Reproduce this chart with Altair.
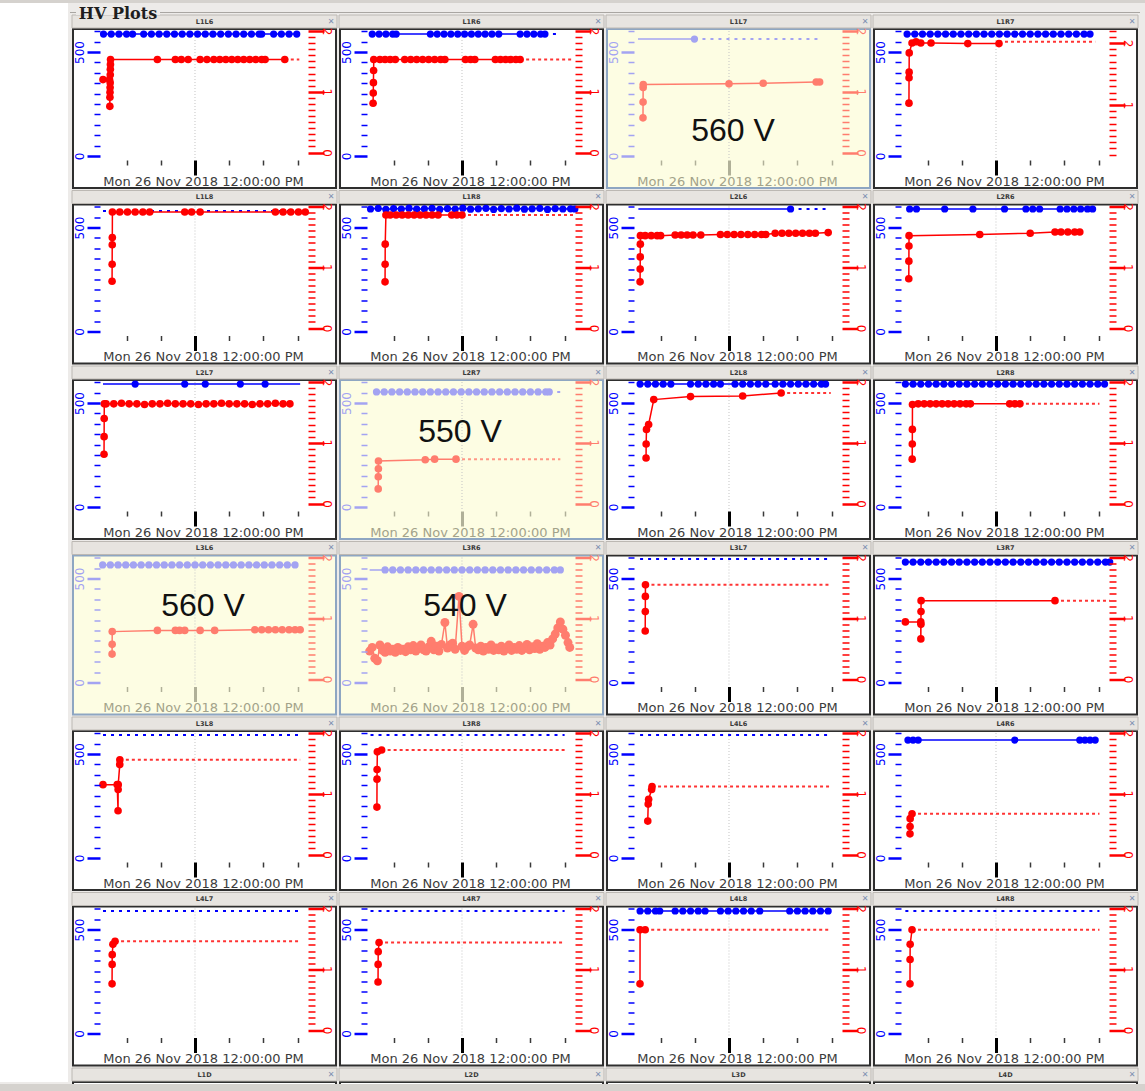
import math
import altair as alt
import pandas as pd

BASE = pd.Timestamp("2018-11-26 00:00:00")

# ---------------------------------------------------------------------------
# Data: times in hours after Mon 26 Nov 2018 00:00.
# bt/bv : blue (voltage, left axis) dots ; rt/ri : red (right axis) dots
# blead : extent of the solid blue line ; bext/rext : dotted continuation [t0, t1, value]
# ---------------------------------------------------------------------------
ROWS = [["L1L6", "L1R6", "L1L7", "L1R7"],
        ["L1L8", "L1R8", "L2L6", "L2R6"],
        ["L2L7", "L2R7", "L2L8", "L2R8"],
        ["L3L6", "L3R6", "L3L7", "L3R7"],
        ["L3L8", "L3R8", "L4L6", "L4R6"],
        ["L4L7", "L4R7", "L4L8", "L4R8"]]
LAST_ROW = ["L1D", "L2D", "L3D", "L4D"]
HIGHLIGHT = {"L1L7": "560 V", "L2R7": "550 V", "L3L6": "560 V", "L3R6": "540 V"}

L1L6 = dict(
    bt=[1.3, 2.2, 3.1, 4.0, 4.7, 6.0, 6.9, 7.8, 8.7, 9.6, 10.5, 11.4, 12.3, 13.2, 14.1, 15.0, 15.9, 16.8, 17.7, 18.6, 19.5, 19.8, 21.2, 22.1, 23.0, 23.9],
    bv=[586, 586, 586, 586, 586, 586, 586, 586, 586, 586, 586, 586, 586, 586, 586, 586, 586, 586, 586, 586, 586, 586, 586, 586, 586, 586],
    rt=[1.24, 2.0, 2.04, 2.05, 2.06, 2.07, 2.08, 2.09, 2.1, 2.11, 2.12, 7.6, 9.7, 10.4, 11.2, 12.6, 13.4, 14.2, 14.9, 15.6, 16.3, 17.0, 17.7, 18.4, 19.1, 19.8, 20.2, 22.5],
    ri=[1.20, 1.20, 0.76, 0.91, 0.99, 1.07, 1.15, 1.28, 1.37, 1.45, 1.53, 1.53, 1.53, 1.53, 1.53, 1.53, 1.53, 1.53, 1.53, 1.53, 1.53, 1.53, 1.53, 1.53, 1.53, 1.53, 1.53, 1.53],
    rext=[22.5, 24.2, 1.53])
L1R6 = dict(
    bt=[1.5, 2.3, 3.1, 3.9, 4.3, 8.3, 9.1, 9.9, 10.7, 11.5, 12.3, 13.1, 13.9, 14.7, 15.5, 16.3, 18.8, 19.6, 20.4, 21.2, 21.7],
    bv=[586, 586, 586, 586, 586, 586, 586, 586, 586, 586, 586, 586, 586, 586, 586, 586, 586, 586, 586, 586, 586],
    bext=[21.7, 23.5, 586],
    rt=[1.6, 1.62, 1.64, 1.66, 1.68, 2.4, 3.0, 3.6, 4.2, 5.3, 6.0, 6.7, 7.4, 8.1, 8.8, 9.5, 10.0, 12.4, 13.0, 13.5, 15.9, 16.5, 17.1, 17.7, 18.3, 18.8],
    ri=[0.81, 0.98, 1.15, 1.35, 1.53, 1.53, 1.53, 1.53, 1.53, 1.53, 1.53, 1.53, 1.53, 1.53, 1.53, 1.53, 1.53, 1.53, 1.53, 1.53, 1.53, 1.53, 1.53, 1.53, 1.53, 1.53],
    rext=[18.8, 25.1, 1.53])
L1L7 = dict(
    bt=[7.96], bv=[562], blead=[1.36, 7.96], bext=[7.96, 22.6, 562],
    rt=[1.94, 1.95, 1.96, 1.97, 12.0, 16.0, 22.2, 22.6],
    ri=[0.57, 0.83, 1.07, 1.12, 1.13, 1.14, 1.16, 1.16],
    rext=[22.6, 23.2, 1.16])
L1R7 = dict(
    bt=[1.6, 2.5, 3.4, 4.3, 5.2, 6.1, 7.0, 7.9, 8.8, 9.7, 10.6, 11.5, 12.4, 13.3, 14.2, 15.1, 16.0, 16.9, 17.8, 18.7, 19.6, 20.5, 21.4, 22.3, 23.0],
    bv=[586, 586, 586, 586, 586, 586, 586, 586, 586, 586, 586, 586, 586, 586, 586, 586, 586, 586, 586, 586, 586, 586, 586, 586, 586],
    rt=[1.82, 1.83, 1.84, 1.85, 2.18, 2.65, 3.2, 4.4, 8.7, 12.35],
    ri=[1.03, 1.44, 1.53, 1.84, 2.0, 2.02, 2.0, 2.0, 1.99, 1.99],
    rext=[12.35, 23.6, 2.02])
L1L8 = dict(
    bt=[], bv=[], bext=[1.24, 24.3, 579],
    rt=[2.3, 2.31, 2.32, 2.33, 2.34, 3.2, 4.1, 5.0, 5.9, 6.7, 10.8, 11.6, 12.6, 21.4, 22.3, 23.2, 24.1, 24.9],
    ri=[0.77, 1.05, 1.37, 1.49, 1.91, 1.91, 1.91, 1.91, 1.91, 1.91, 1.91, 1.91, 1.91, 1.91, 1.91, 1.91, 1.91, 1.91])
L1R8 = dict(
    bt=[1.3, 2.2, 3.1, 4.0, 4.9, 5.8, 6.7, 7.6, 8.5, 9.4, 10.3, 11.2, 12.1, 13.0, 13.9, 14.8, 15.7, 16.6, 17.5, 18.4, 19.3, 20.2, 21.1, 22.0, 22.9, 23.8, 24.7, 25.2],
    bv=[589, 592, 587, 591, 589, 593, 588, 590, 592, 587, 591, 589, 593, 588, 590, 592, 587, 591, 589, 593, 588, 590, 592, 587, 591, 589, 590, 589],
    rt=[3.0, 3.01, 3.02, 3.1, 3.6, 4.3, 5.0, 5.7, 6.4, 7.1, 7.8, 8.5, 9.2, 10.8, 11.4, 12.0],
    ri=[0.76, 1.05, 1.38, 1.86, 1.86, 1.86, 1.86, 1.86, 1.86, 1.86, 1.86, 1.86, 1.86, 1.86, 1.86, 1.86],
    rext=[12.0, 25.0, 1.86])
L2L6 = dict(
    bt=[19.2], bv=[589], blead=[1.4, 19.2], bext=[19.2, 23.3, 589],
    rt=[1.6, 1.61, 1.62, 1.63, 1.64, 2.2, 2.9, 3.6, 4.0, 5.7, 6.4, 7.1, 7.8, 8.7, 11.0, 11.8, 12.6, 13.4, 14.2, 15.0, 15.8, 16.3, 17.4, 18.2, 19.0, 19.8, 20.6, 21.4, 22.1, 23.6],
    ri=[0.76, 0.97, 1.17, 1.38, 1.52, 1.52, 1.52, 1.52, 1.52, 1.53, 1.53, 1.53, 1.53, 1.53, 1.54, 1.54, 1.54, 1.54, 1.54, 1.54, 1.54, 1.54, 1.56, 1.56, 1.56, 1.56, 1.56, 1.56, 1.56, 1.57])
L2R6 = dict(
    bt=[1.9, 2.7, 6.0, 9.3, 13.0, 15.5, 16.3, 17.1, 19.5, 20.3, 21.1, 21.9, 22.7, 23.3],
    bv=[589, 589, 589, 589, 589, 589, 589, 589, 589, 589, 589, 589, 589, 589],
    rt=[1.8, 1.81, 1.82, 1.83, 10.1, 16.0, 18.9, 19.6, 20.4, 21.2, 21.8],
    ri=[0.81, 1.10, 1.35, 1.52, 1.54, 1.56, 1.58, 1.58, 1.58, 1.58, 1.58])
L2L7 = dict(
    bt=[5.0, 10.8, 13.2, 17.3, 20.2], bv=[591, 591, 591, 591, 591], blead=[1.24, 24.3],
    rt=[1.36, 1.37, 1.38, 1.39, 1.6, 2.5, 3.4, 4.3, 5.2, 6.1, 7.0, 7.9, 8.8, 9.7, 10.6, 11.5, 12.4, 13.3, 14.2, 15.1, 16.0, 16.9, 17.8, 18.7, 19.6, 20.5, 21.4, 22.3, 23.1],
    ri=[0.81, 1.10, 1.40, 1.64, 1.64, 1.64, 1.65, 1.64, 1.64, 1.63, 1.64, 1.64, 1.65, 1.64, 1.64, 1.64, 1.63, 1.64, 1.64, 1.65, 1.64, 1.64, 1.64, 1.63, 1.64, 1.64, 1.65, 1.64, 1.64])
L2R7 = dict(
    bt=[2.0, 2.9, 3.8, 4.7, 5.6, 6.5, 7.4, 8.3, 9.2, 10.1, 11.0, 11.9, 12.8, 13.7, 14.6, 15.5, 16.4, 17.3, 18.2, 19.1, 20.0, 20.9, 21.8, 22.2],
    bv=[553, 553, 553, 553, 553, 553, 553, 553, 553, 553, 553, 553, 553, 553, 553, 553, 553, 553, 553, 553, 553, 553, 553, 553],
    bext=[22.2, 23.5, 553],
    rt=[2.2, 2.21, 2.22, 2.23, 7.7, 8.8, 11.3],
    ri=[0.24, 0.44, 0.57, 0.70, 0.72, 0.73, 0.73],
    rext=[11.3, 23.5, 0.73])
L2L8 = dict(
    bt=[1.6, 2.5, 3.4, 4.3, 5.2, 7.5, 8.4, 9.3, 10.2, 11.0, 12.7, 13.6, 14.5, 15.4, 16.3, 17.4, 18.3, 19.2, 20.1, 21.0, 21.9, 22.8, 23.3],
    bv=[591, 591, 591, 591, 591, 591, 591, 591, 591, 591, 591, 591, 591, 591, 591, 591, 591, 591, 591, 591, 591, 591, 591],
    rt=[2.3, 2.31, 2.35, 2.6, 3.2, 7.5, 13.6, 18.1],
    ri=[0.75, 0.98, 1.22, 1.30, 1.71, 1.76, 1.77, 1.82],
    rext=[18.1, 23.9, 1.82])
L2R8 = dict(
    bt=[1.4, 2.3, 3.2, 4.1, 5.0, 5.9, 6.8, 7.7, 8.6, 9.5, 10.4, 11.3, 12.2, 13.1, 14.0, 14.9, 15.8, 16.7, 17.6, 18.5, 19.4, 20.3, 21.2, 22.1, 23.0, 23.9, 24.7],
    bv=[591, 591, 591, 591, 591, 591, 591, 591, 591, 591, 591, 591, 591, 591, 591, 591, 591, 591, 591, 591, 591, 591, 591, 591, 591, 591, 591],
    rt=[2.2, 2.21, 2.22, 2.23, 2.9, 3.6, 4.3, 5.0, 5.7, 6.4, 7.1, 7.8, 8.5, 9.0, 13.6, 14.2, 14.8],
    ri=[0.73, 0.98, 1.22, 1.63, 1.64, 1.64, 1.64, 1.64, 1.64, 1.64, 1.64, 1.64, 1.64, 1.64, 1.64, 1.64, 1.64],
    rext=[14.8, 24.1, 1.64])
L3L6 = dict(
    bt=[1.2, 2.1, 3.0, 3.9, 4.8, 5.7, 6.6, 7.5, 8.4, 9.3, 10.2, 11.1, 12.0, 12.9, 13.8, 14.7, 15.6, 16.5, 17.4, 18.3, 19.2, 20.1, 21.0, 21.9, 22.8, 23.7],
    bv=[565, 565, 565, 565, 565, 565, 565, 565, 565, 565, 565, 565, 565, 565, 565, 565, 565, 565, 565, 565, 565, 565, 565, 565, 565, 565],
    rt=[2.3, 2.31, 2.32, 7.6, 9.7, 10.2, 10.8, 12.6, 14.3, 19.0, 19.8, 20.6, 21.4, 22.2, 23.0, 23.7, 24.3],
    ri=[0.41, 0.57, 0.78, 0.80, 0.80, 0.80, 0.80, 0.80, 0.80, 0.81, 0.81, 0.81, 0.81, 0.81, 0.81, 0.81, 0.81])
L3R6 = dict(
    bt=[3.0, 3.9, 4.8, 5.7, 6.6, 7.5, 8.4, 9.3, 10.2, 11.1, 12.0, 12.9, 13.8, 14.7, 15.6, 16.5, 17.4, 18.3, 19.2, 20.1, 21.0, 21.9, 22.8, 23.5],
    bv=[541, 541, 541, 541, 541, 541, 541, 541, 541, 541, 541, 541, 541, 541, 541, 541, 541, 541, 541, 541, 541, 541, 541, 541],
    blead=[1.2, 23.5],
    rt=[1.2, 1.5, 1.8, 2.1, 2.4, 2.7, 3.0, 3.3, 3.6, 3.9, 4.2, 4.5, 4.8, 5.1, 5.4, 5.7, 6.0, 6.3, 6.6, 6.9,
        7.2, 7.5, 7.8, 8.1, 8.4, 8.7, 9.0, 9.3, 9.6, 10.0, 10.3, 10.6, 10.9, 11.2, 11.65, 12.0, 12.3, 12.6, 12.9, 13.3,
        13.6, 13.9, 14.2, 14.5, 14.8, 15.1, 15.4, 15.7, 16.0, 16.3, 16.6, 16.9, 17.2, 17.5, 17.8, 18.1, 18.4, 18.7, 19.0, 19.3,
        19.6, 19.9, 20.2, 20.5, 20.8, 21.1, 21.4, 21.7, 22.0, 22.3, 22.6, 22.9, 23.2, 23.5, 23.8, 24.1, 24.4, 24.6],
    ri=[0.46, 0.52, 0.34, 0.30, 0.56, 0.47, 0.44, 0.53, 0.46, 0.49, 0.44, 0.52, 0.47, 0.49, 0.45, 0.53, 0.48, 0.55, 0.46, 0.51,
        0.56, 0.48, 0.46, 0.53, 0.62, 0.48, 0.54, 0.46, 0.57, 0.93, 0.51, 0.56, 0.59, 0.49, 1.36, 0.54, 0.47, 0.53, 0.56, 0.90,
        0.51, 0.48, 0.54, 0.46, 0.52, 0.49, 0.56, 0.47, 0.51, 0.48, 0.54, 0.46, 0.51, 0.56, 0.47, 0.52, 0.49, 0.55, 0.47, 0.51,
        0.57, 0.48, 0.53, 0.50, 0.58, 0.49, 0.54, 0.52, 0.60, 0.56, 0.66, 0.74, 0.84, 0.94, 0.82, 0.72, 0.60, 0.52])
L3L7 = dict(
    bt=[], bv=[], bext=[1.6, 23.9, 594],
    rt=[2.2, 2.21, 2.22, 2.23], ri=[0.79, 1.11, 1.36, 1.55],
    rext=[2.23, 23.9, 1.55])
L3R7 = dict(
    bt=[1.4, 2.3, 3.2, 4.1, 5.0, 5.9, 6.8, 7.7, 8.6, 9.5, 10.4, 11.3, 12.2, 13.1, 14.0, 14.9, 15.8, 16.7, 17.6, 18.5, 19.4, 20.3, 21.2, 22.1, 23.0, 23.9, 24.8, 25.3],
    bv=[579, 579, 579, 579, 579, 579, 579, 579, 579, 579, 579, 579, 579, 579, 579, 579, 579, 579, 579, 579, 579, 579, 579, 579, 579, 579, 579, 579],
    rt=[1.4, 3.2, 3.21, 3.22, 3.23, 3.24, 18.9],
    ri=[0.94, 0.94, 0.66, 0.90, 1.11, 1.29, 1.29],
    rext=[18.9, 25.3, 1.29])
L3L8 = dict(
    bt=[], bv=[], bext=[1.24, 24.3, 591],
    rt=[1.24, 2.9, 3.0, 3.01, 3.02, 3.2, 3.21], ri=[1.15, 1.15, 0.72, 1.07, 1.15, 1.48, 1.56],
    rext=[3.21, 24.3, 1.56])
L3R8 = dict(
    bt=[], bv=[], bext=[1.3, 24.0, 591],
    rt=[2.05, 2.06, 2.07, 2.1, 2.6], ri=[0.78, 1.24, 1.40, 1.69, 1.72],
    rext=[2.6, 24.0, 1.72])
L4L6 = dict(
    bt=[], bv=[], bext=[1.6, 23.9, 591],
    rt=[2.5, 2.55, 2.6, 2.95, 3.0], ri=[0.55, 0.83, 0.91, 1.07, 1.12],
    rext=[3.0, 23.9, 1.12])
L4R6 = dict(
    bt=[1.7, 2.3, 2.9, 14.2, 21.8, 22.4, 23.0, 23.6], bv=[567, 567, 567, 567, 567, 567, 567, 567],
    rt=[1.94, 1.95, 1.96, 2.18], ri=[0.34, 0.46, 0.59, 0.67],
    rext=[2.18, 24.1, 0.67])
L4L7 = dict(
    bt=[], bv=[], bext=[1.24, 24.3, 589],
    rt=[2.3, 2.31, 2.32, 2.4, 2.65], ri=[0.76, 1.08, 1.24, 1.41, 1.46],
    rext=[2.65, 24.3, 1.46])
L4R7 = dict(
    bt=[], bv=[], bext=[1.3, 24.0, 589],
    rt=[2.18, 2.19, 2.2, 2.3], ri=[0.79, 1.08, 1.29, 1.44],
    rext=[2.3, 24.0, 1.44])
L4L8 = dict(
    bt=[1.6, 2.5, 3.4, 3.9, 5.7, 6.6, 7.5, 8.4, 9.2, 11.0, 11.9, 12.8, 13.7, 14.6, 15.6, 19.1, 20.0, 20.9, 21.8, 22.7, 23.6],
    bv=[589, 589, 589, 589, 589, 589, 589, 589, 589, 589, 589, 589, 589, 589, 589, 589, 589, 589, 589, 589, 589],
    rt=[1.59, 1.6, 2.2], ri=[0.76, 1.65, 1.65],
    rext=[2.2, 23.9, 1.65])
L4R8 = dict(
    bt=[], bv=[], bext=[1.4, 24.1, 589],
    rt=[1.94, 1.95, 1.96, 2.18], ri=[0.76, 1.16, 1.41, 1.65],
    rext=[2.18, 24.1, 1.65])

PANEL_DATA = {
    "L1L6": L1L6, "L1R6": L1R6, "L1L7": L1L7, "L1R7": L1R7,
    "L1L8": L1L8, "L1R8": L1R8, "L2L6": L2L6, "L2R6": L2R6,
    "L2L7": L2L7, "L2R7": L2R7, "L2L8": L2L8, "L2R8": L2R8,
    "L3L6": L3L6, "L3R6": L3R6, "L3L7": L3L7, "L3R7": L3R7,
    "L3L8": L3L8, "L3R8": L3R8, "L4L6": L4L6, "L4R6": L4R6,
    "L4L7": L4L7, "L4R7": L4R7, "L4L8": L4L8, "L4R8": L4R8,
}

# right-axis calibration per panel: (value a, px a, value b, px b) inside a panel
RED_CAL_DEFAULT = (2.0, 16.0, 0.0, 137.5)
RED_CAL = {"L1R7": (2.0, 28.0, 1.0, 90.0)}

# ---------------------------------------------------------------------------
# Layout / styling
# ---------------------------------------------------------------------------
W, H, HDR = 265, 174, 13
PXH = 8.55            # pixels per hour
NOON_X = 123          # position of the noon tick inside a panel
T_START = 12 - NOON_X / PXH
T_END = T_START + W / PXH
BG = "#edebe9"
BAND = "#d5d2ce"
BLUE, BLUE_F = "#0000ff", "#a3a3f2"
RED, RED_F = "#ff0000", "#ff7d6e"
DUMMY = pd.DataFrame({"d": [0]})


def iso(h):
    return (BASE + pd.Timedelta(hours=float(h))).round("s").strftime("%Y-%m-%dT%H:%M:%S")


def dtobj(h):
    s = (BASE + pd.Timedelta(hours=float(h))).round("s")
    return alt.DateTime(year=s.year, month=s.month, date=s.day,
                        hours=s.hour, minutes=s.minute, seconds=s.second)


XSCALE = alt.Scale(domain=[dtobj(T_START), dtobj(T_END)])
XTICKS = [dtobj(h) for h in (4, 8, 12, 16, 20, 24)]

LPPV = (141 - 37) / 500.0
L_DOM = [0 - (H - 141) / LPPV, 500 + 37 / LPPV]
LVALS = [v for v in range(0, 650, 50) if 15 <= 141 - v * LPPV <= 143]


def red_setup(cal):
    va, pa, vb, pb = cal
    ppu = (pb - pa) / (va - vb)
    dom = [vb - (H - pb) / ppu, va + pa / ppu]
    lo = vb - (143 - pb) / ppu
    hi = va + (pa - 15) / ppu
    vals = [round(k / 10, 1) for k in range(math.ceil(lo * 10 - 1e-6), math.floor(hi * 10 + 1e-6) + 1)]
    return dom, vals


def cond(test, a, b):
    return {"condition": {"test": test, "value": a}, "value": b}


def x_axis(faded):
    noon = "hours(datum.value) == 12"
    return alt.Axis(
        orient="bottom", offset=-29, values=XTICKS, domain=False, grid=False,
        tickColor=cond(noon, "#b0b098" if faded else "#000000", "#b0b098" if faded else "#3a3a3a"),
        tickSize=cond(noon, 15, 5), tickWidth=cond(noon, 3, 1.5),
        labelExpr="hours(datum.value) == 12 ? timeFormat(datum.value, '%a %d %b %Y %I:%M:%S %p') : ''",
        labelFont="DejaVu Sans", labelFontSize=13, labelColor="#a3a38a" if faded else "#3c3c3c",
        labelPadding=0, labelOffset=8, labelLimit=400, labelOverlap=False, labelFlush=False,
        title=None, zindex=1)


def left_axis(col):
    t = "datum.value % 500 == 0"
    return alt.Axis(
        orient="left", offset=-28, values=LVALS, domain=False, grid=False,
        tickColor=col, tickSize=cond(t, 13, 6), tickWidth=cond(t, 2.5, 1.5),
        labelExpr="datum.value % 500 == 0 ? '' + datum.value : ''",
        labelAngle=270, labelAlign="center", labelBaseline="bottom",
        labelColor=col, labelFont="DejaVu Sans", labelFontSize=12, labelPadding=1,
        labelOverlap=False, labelFlush=False, title=None, zindex=1)


def right_axis(col, vals):
    t = "abs(datum.value - round(datum.value)) < 0.01"
    return alt.Axis(
        orient="right", offset=-29, values=vals, domain=False, grid=False,
        tickColor=col, tickSize=cond(t, 16, 7), tickWidth=cond(t, 2.5, 1.5),
        labelExpr=t + " ? '' + round(datum.value) : ''",
        labelAngle=90, labelAlign="center", labelBaseline="bottom",
        labelColor=col, labelFont="DejaVu Sans", labelFontSize=12, labelPadding=-5,
        labelOverlap=False, labelFlush=False, title=None, zindex=1)


def rect(x, x2, y, y2, **kw):
    return alt.Chart(DUMMY).mark_rect(**kw).encode(
        x=alt.value(x), x2=alt.value(x2), y=alt.value(y), y2=alt.value(y2))


def header_layers(name):
    hdr = rect(0, W, 0, HDR, fill="#e7e4e0", stroke="#bcb8b3", strokeWidth=1)
    title = alt.Chart(DUMMY).mark_text(text=name, font="DejaVu Sans", fontSize=6.5, fontWeight="bold",
                                       color="#3a3a3a").encode(x=alt.value(W / 2), y=alt.value(HDR / 2))
    icon = alt.Chart(DUMMY).mark_text(text="✕", font="DejaVu Sans", fontSize=8,
                                      color="#7d8fb2").encode(x=alt.value(W - 6), y=alt.value(HDR / 2))
    return [hdr, title, icon]


def window_decor(row, col):
    """Window chrome drawn outside the panels (strip, top band, group frame)."""
    out = []
    if row == 0:
        x0 = -72 if col == 0 else -2
        x2 = W + 7 if col == 3 else W + 2
        out.append(rect(x0, x2, -15, -12, fill=BAND))
        out.append(alt.Chart(DUMMY).mark_rule(color="#a9a6a2", strokeWidth=1).encode(
            x=alt.value(-2), x2=alt.value(W + 2), y=alt.value(-2.5)))
        if col == 0:
            out.append(rect(-72, -4, -12, 1067, fill="#ffffff"))
    return out


def panel(name, row, col):
    d = PANEL_DATA[name]
    faded = name in HIGHLIGHT
    bcol = BLUE_F if faded else BLUE
    rcol = RED_F if faded else RED
    fill = "#fdfde3" if faded else "#ffffff"
    frame = "#8ea6c2" if faded else "#2e2e2e"
    xenc = alt.X("t:T", scale=XSCALE, axis=x_axis(faded))

    rdom, rvals = red_setup(RED_CAL.get(name, RED_CAL_DEFAULT))
    lscale = alt.Scale(domain=L_DOM)
    rscale = alt.Scale(domain=rdom)

    layers = window_decor(row, col)
    layers.append(rect(1, W - 1, HDR + 1, H - 1, fill=fill, stroke=frame, strokeWidth=2))
    layers += header_layers(name)

    layers.append(alt.Chart(pd.DataFrame({"t": [iso(12)]})).mark_rule(
        color="#c4c4c4", strokeDash=[1, 2], strokeWidth=1).encode(
        x=xenc, y=alt.value(16), y2=alt.value(145)))

    # blue series (left axis)
    pts = list(zip(d.get("bt", []), d.get("bv", [])))
    if d.get("bext"):
        t0, t1, v = d["bext"]
        layers.append(alt.Chart(pd.DataFrame({"t": [iso(t0), iso(t1)], "v": [v, v]})).mark_line(
            color=bcol, strokeDash=[3, 5], strokeWidth=2).encode(
            x=xenc, y=alt.Y("v:Q", scale=lscale, axis=None)))
    line_pts = list(pts)
    if d.get("blead") and pts:
        line_pts = [(d["blead"][0], pts[0][1])] + line_pts + [(d["blead"][1], pts[-1][1])]
    if line_pts:
        layers.append(alt.Chart(pd.DataFrame({"t": [iso(t) for t, _ in line_pts],
                                              "v": [v for _, v in line_pts]})).mark_line(
            color=bcol, strokeWidth=1.5).encode(x=xenc, y=alt.Y("v:Q", scale=lscale, axis=None)))
    layers.append(alt.Chart(pd.DataFrame({"t": [iso(t) for t, _ in pts],
                                          "v": [v for _, v in pts]})).mark_circle(
        color=bcol, size=52, opacity=1).encode(
        x=xenc, y=alt.Y("v:Q", scale=lscale, axis=left_axis(bcol))))

    # red series (right axis)
    rpts = list(zip(d.get("rt", []), d.get("ri", [])))
    if d.get("rext"):
        t0, t1, v = d["rext"]
        layers.append(alt.Chart(pd.DataFrame({"t": [iso(t0), iso(t1)], "v": [v, v]})).mark_line(
            color=rcol, strokeDash=[3, 3], strokeWidth=2, opacity=0.8).encode(
            x=xenc, y=alt.Y("v:Q", scale=rscale, axis=None)))
    rdf = pd.DataFrame({"t": [iso(t) for t, _ in rpts], "v": [v for _, v in rpts]})
    layers.append(alt.Chart(rdf).mark_line(color=rcol, strokeWidth=1.5).encode(
        x=xenc, y=alt.Y("v:Q", scale=rscale, axis=None)))
    layers.append(alt.Chart(rdf).mark_circle(
        color=rcol, size=58 if name != "L3R6" else 80, opacity=1).encode(
        x=xenc, y=alt.Y("v:Q", scale=rscale, axis=right_axis(rcol, rvals))))

    if faded:
        pos = {"L1L7": (127, 116), "L2R7": (121, 66), "L3L6": (131, 64), "L3R6": (126, 64)}[name]
        layers.append(alt.Chart(DUMMY).mark_text(
            text=HIGHLIGHT[name], font="Liberation Sans", fontSize=32, color="#111111").encode(
            x=alt.value(pos[0]), y=alt.value(pos[1])))

    if row == 0 and col == 0:
        layers.append(rect(4, 88, -6, 0, fill=BG))
        layers.append(alt.Chart(DUMMY).mark_text(
            text="HV Plots", font="DejaVu Serif", fontSize=16, fontWeight="bold", color="#1e1e1e").encode(
            x=alt.value(46), y=alt.value(-1)))

    return alt.layer(*layers).resolve_scale(y="independent").properties(width=W, height=H)


def stub_panel(name):
    hh = 15
    layers = [rect(1, W - 1, HDR + 1, hh + 2, fill="#ffffff", stroke="#2e2e2e", strokeWidth=2)]
    layers += header_layers(name)
    layers.append(rect(-4 if name != "L1D" else -72, W + (7 if name == "L4D" else 2), hh + 1, hh + 8, fill=BAND))
    return alt.layer(*layers).properties(width=W, height=hh)


panels = [panel(n, r, c) for r, row in enumerate(ROWS) for c, n in enumerate(row)]
panels += [stub_panel(n) for n in LAST_ROW]

chart = alt.concat(*panels, columns=4, spacing={"row": 1.5, "column": 2}, bounds="flush").properties(
    padding=0, background=BG
).configure_view(stroke=None)

chart.save("out.html", embed_options={"renderer": "svg", "actions": False})
